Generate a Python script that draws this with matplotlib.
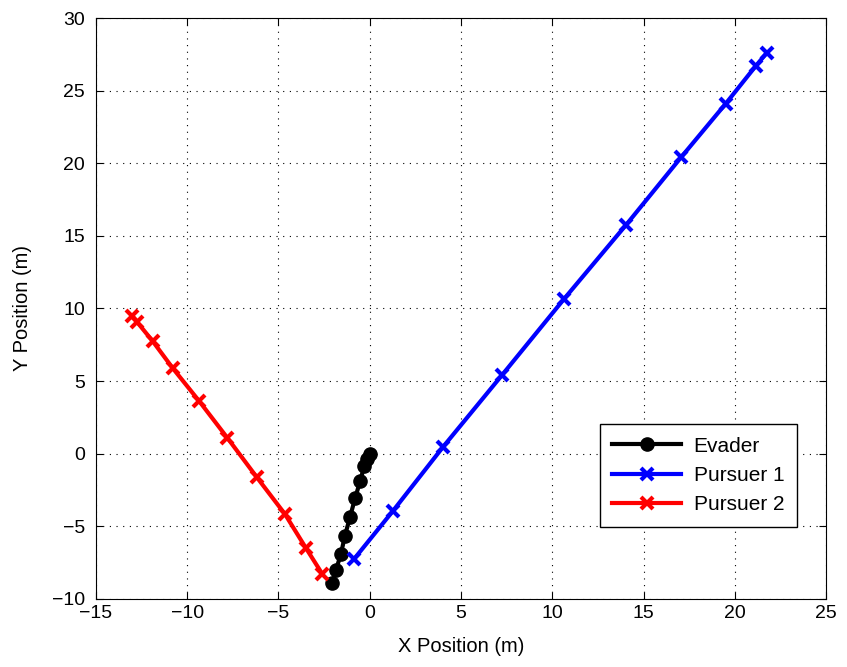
import matplotlib.pyplot as plt
import numpy as np

plt.rcParams['font.family'] = ['Liberation Sans', 'DejaVu Sans']

# trajectories
evader_x = [0.0, -0.17, -0.3, -0.53, -0.8, -1.08, -1.36, -1.58, -1.85, -2.05]
evader_y = [0.0, -0.35, -0.85, -1.9, -3.05, -4.35, -5.65, -6.9, -8.0, -8.9]

p1_x = [-0.86, 1.27, 4.01, 7.25, 10.64, 14.04, 17.05, 19.5, 21.15, 21.75]
p1_y = [-7.25, -3.94, 0.46, 5.42, 10.65, 15.75, 20.4, 24.1, 26.7, 27.6]

p2_x = [-13.0, -12.75, -11.9, -10.8, -9.35, -7.8, -6.2, -4.65, -3.5, -2.6]
p2_y = [9.48, 9.07, 7.76, 5.9, 3.63, 1.09, -1.6, -4.15, -6.49, -8.28]

fig = plt.figure(figsize=(8.47, 6.67), dpi=100)
ax = fig.add_axes([0.1133, 0.102, 0.862, 0.871])

ax.plot(evader_x, evader_y, '-o', color='black', lw=3, ms=9.5, label='Evader')
ax.plot(p1_x, p1_y, '-x', color='blue', lw=3, ms=8.5, mew=3, label='Pursuer 1')
ax.plot(p2_x, p2_y, '-x', color='red', lw=3, ms=8.5, mew=3, label='Pursuer 2')

ax.set_xlim(-15, 25)
ax.set_ylim(-10, 30)
ax.set_xticks(np.arange(-15, 26, 5))
ax.set_yticks(np.arange(-10, 31, 5))
ax.set_xticklabels([str(v).replace('-', '\u2212') for v in range(-15, 26, 5)])
ax.set_yticklabels([str(v).replace('-', '\u2212') for v in range(-10, 31, 5)])
ax.tick_params(direction='in', top=True, right=True, labelsize=14, length=5)
ax.tick_params(axis='x', pad=4)
ax.tick_params(axis='y', pad=8)
ax.grid(True, linestyle=(0, (1, 5)), color='black', lw=0.8)
for s in ax.spines.values():
    s.set_linewidth(0.8)

ax.set_xlabel('X Position (m)', fontsize=14.5, labelpad=11)
ax.set_ylabel('Y Position (m)', fontsize=14.5, labelpad=14)

leg = ax.legend(loc='lower right', bbox_to_anchor=(0.960, 0.124), borderaxespad=0,
                fontsize=15, fancybox=False, edgecolor='black', framealpha=1,
                handlelength=3.3, borderpad=0.6, labelspacing=0.5, handletextpad=0.6)
leg.get_frame().set_linewidth(1.0)

fig.savefig('out.png', dpi=100)
